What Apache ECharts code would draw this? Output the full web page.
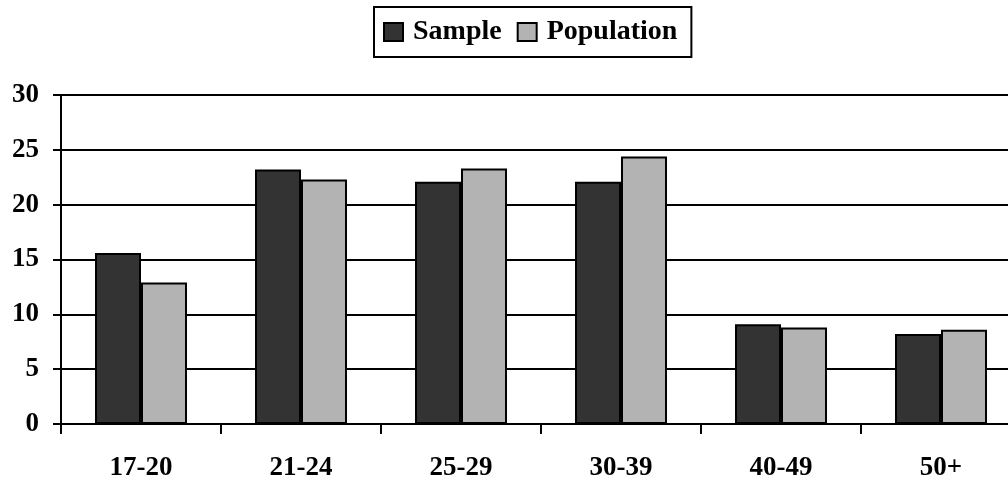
<!DOCTYPE html>
<html><head><meta charset="utf-8">
<script src="https://cdn.jsdelivr.net/npm/echarts@6/dist/echarts.min.js"></script>
<style>html,body{margin:0;padding:0;background:#fff}#c{width:1008px;height:482px}</style>
</head><body><div id="c"></div>
<script>
const categories = ['17-20','21-24','25-29','30-39','40-49','50+'];
const sampleValues = [15.6, 23.2, 22.1, 22.1, 9.1, 8.2];
const populationValues = [12.9, 22.3, 23.3, 24.4, 8.8, 8.6];
const seriesNames = ['Sample','Population'];

const font = '"Liberation Serif","Times New Roman",serif';
const chart = echarts.init(document.getElementById('c'), null, {renderer:'canvas'});
chart.setOption({
  animation:false,
  legend:{
    top:7, left:374,
    data:seriesNames,
    itemWidth:19, itemHeight:18, itemGap:15,
    padding:[11,14,11,9],
    borderColor:'#000', borderWidth:2,
    textStyle:{fontFamily:font, fontWeight:'bold', fontSize:28, color:'#000', padding:[0,0,0,5]},
    icon:'rect'
  },
  grid:{left:61, width:960, top:95, height:329, containLabel:false, outerBoundsMode:'none'},
  xAxis:{
    type:'category', data:categories,
    axisLine:{lineStyle:{color:'#000', width:2}},
    axisTick:{show:true, length:10, lineStyle:{color:'#000', width:2}},
    axisLabel:{fontFamily:font, fontWeight:'bold', fontSize:27, color:'#000', margin:31}
  },
  yAxis:{
    type:'value', min:0, max:30, interval:5,
    axisLine:{show:true, lineStyle:{color:'#000', width:2}},
    axisTick:{show:true, length:8, lineStyle:{color:'#000', width:2}},
    splitLine:{lineStyle:{color:'#000', width:2}},
    axisLabel:{fontFamily:font, fontWeight:'bold', fontSize:27, color:'#000', margin:22}
  },
  series:[
    {name:seriesNames[0], type:'bar', data:sampleValues, barWidth:46, barGap:'0%',
     itemStyle:{color:'#333333', borderColor:'#000', borderWidth:2}},
    {name:seriesNames[1], type:'bar', data:populationValues, barWidth:46,
     itemStyle:{color:'#b3b3b3', borderColor:'#000', borderWidth:2}}
  ]
});
</script></body></html>
